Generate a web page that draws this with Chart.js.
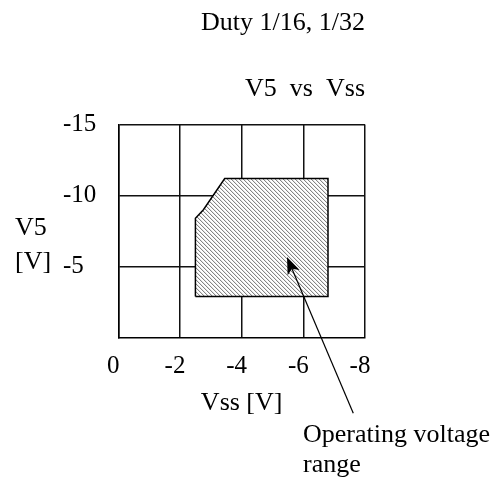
<!DOCTYPE html>
<html>
<head>
<meta charset="utf-8">
<script src="https://cdn.jsdelivr.net/npm/chart.js@4.4.0/dist/chart.umd.min.js"></script>
<style>
  html, body { margin: 0; padding: 0; background: #fff; }
  #wrap { width: 500px; height: 481px; position: relative; }
</style>
</head>
<body>
<div id="wrap"><canvas id="myChart"></canvas></div>
<script>
// operating range outline, Vss vs V5 (closed shape)
var vssPoly = [-2.5, -2.5, -2.76, -3.45, -6.8, -6.8, -2.5];
var v5Poly = [-2.9, -8.4, -9.0, -11.2, -11.2, -2.9, -2.9];
var xTicks = [0, -2, -4, -6, -8];
var yTicks = [-15, -10, -5];
// arrow from the note to the shaded area (Vss, V5)
var arrowTail = [-7.62, 5.3];
var arrowTip = [-5.47, -5.68];

var serif = "'Liberation Serif', 'Times New Roman', serif";
Chart.defaults.font.family = serif;
Chart.defaults.color = "#000";

function makeHatch() {
  var c = document.createElement("canvas");
  c.width = 4;
  c.height = 4;
  var g = c.getContext("2d");
  g.fillStyle = "#fff";
  g.fillRect(0, 0, 4, 4);
  g.fillStyle = "#858585";
  for (var i = 0; i < 4; i++) g.fillRect(i, i, 1, 1);
  g.fillStyle = "#e6e6e6";
  for (var j = 0; j < 4; j++) g.fillRect((j + 1) % 4, j, 1, 1);
  return g.createPattern(c, "repeat");
}

var points = vssPoly.map(function (v, i) {
  return { x: v, y: v5Poly[i] };
});

var notes = {
  id: "notes",
  afterDraw: function (chart) {
    var ctx = chart.ctx;
    var xs = chart.scales.x;
    var ys = chart.scales.y;
    ctx.save();
    ctx.fillStyle = "#000";
    ctx.strokeStyle = "#000";
    ctx.font = "26px " + serif;
    ctx.textAlign = "left";
    ctx.textBaseline = "middle";
    ctx.fillText("V5", 15, 228);
    ctx.fillText("[V]", 15, 262);

    var x0 = xs.getPixelForValue(arrowTail[0]);
    var y0 = ys.getPixelForValue(arrowTail[1]);
    var x1 = xs.getPixelForValue(arrowTip[0]);
    var y1 = ys.getPixelForValue(arrowTip[1]);
    var a = Math.atan2(y1 - y0, x1 - x0);
    var len = 17, w = 6.5;
    var bx = x1 - len * Math.cos(a), by = y1 - len * Math.sin(a);
    var nx = x1 - 0.75 * len * Math.cos(a), ny = y1 - 0.75 * len * Math.sin(a);
    ctx.lineWidth = 1.2;
    ctx.beginPath();
    ctx.moveTo(x0, y0);
    ctx.lineTo(nx, ny);
    ctx.stroke();
    ctx.beginPath();
    ctx.moveTo(x1, y1);
    ctx.lineTo(bx + w * Math.sin(a), by - w * Math.cos(a));
    ctx.lineTo(nx, ny);
    ctx.lineTo(bx - w * Math.sin(a), by + w * Math.cos(a));
    ctx.closePath();
    ctx.fill();

    ctx.textBaseline = "alphabetic";
    ctx.fillText("Operating voltage", 303, 442);
    ctx.fillText("range", 303, 472);
    ctx.restore();
  },
};

new Chart("myChart", {
  type: "scatter",
  data: {
    datasets: [
      {
        data: points,
        showLine: true,
        fill: "shape",
        tension: 0,
        backgroundColor: makeHatch(),
        borderColor: "#000",
        borderWidth: 1.5,
        pointRadius: 0,
      },
    ],
  },
  options: {
    responsive: true,
    maintainAspectRatio: false,
    animation: false,
    layout: { padding: { left: 63, right: 135, top: 0, bottom: 62 } },
    plugins: {
      legend: { display: false },
      tooltip: { enabled: false },
      title: {
        display: true,
        text: "Duty 1/16, 1/32",
        align: "end",
        fullSize: false,
        color: "#000",
        font: { size: 26, weight: "normal" },
        padding: { top: 8, bottom: 0 },
      },
      subtitle: {
        display: true,
        text: "V5  vs  Vss",
        align: "end",
        fullSize: false,
        color: "#000",
        font: { size: 26, weight: "normal" },
        padding: { top: 34, bottom: 20 },
      },
    },
    scales: {
      x: {
        type: "linear",
        min: -8,
        max: 0,
        reverse: true,
        afterBuildTicks: function (axis) {
          axis.ticks = xTicks.map(function (v) {
            return { value: v };
          });
        },
        ticks: {
          padding: 14,
          labelOffset: -5,
          color: "#000",
          font: { size: 25 },
          callback: function (v) {
            return String(v);
          },
        },
        grid: { color: "#111", lineWidth: 1.5, drawTicks: false },
        border: { color: "#000", width: 1.5 },
        title: {
          display: true,
          text: "Vss [V]",
          color: "#000",
          font: { size: 26 },
          padding: { top: -8, bottom: 0 },
        },
      },
      y: {
        type: "linear",
        min: -15,
        max: 0,
        reverse: true,
        afterBuildTicks: function (axis) {
          axis.ticks = yTicks.map(function (v) {
            return { value: v };
          });
        },
        ticks: {
          padding: 11,
          crossAlign: "far",
          color: "#000",
          font: { size: 25 },
          callback: function (v) {
            return String(v);
          },
        },
        grid: { color: "#111", lineWidth: 1.5, drawTicks: false },
        border: { color: "#000", width: 1.5 },
      },
    },
  },
  plugins: [notes],
});
</script>
</body>
</html>
